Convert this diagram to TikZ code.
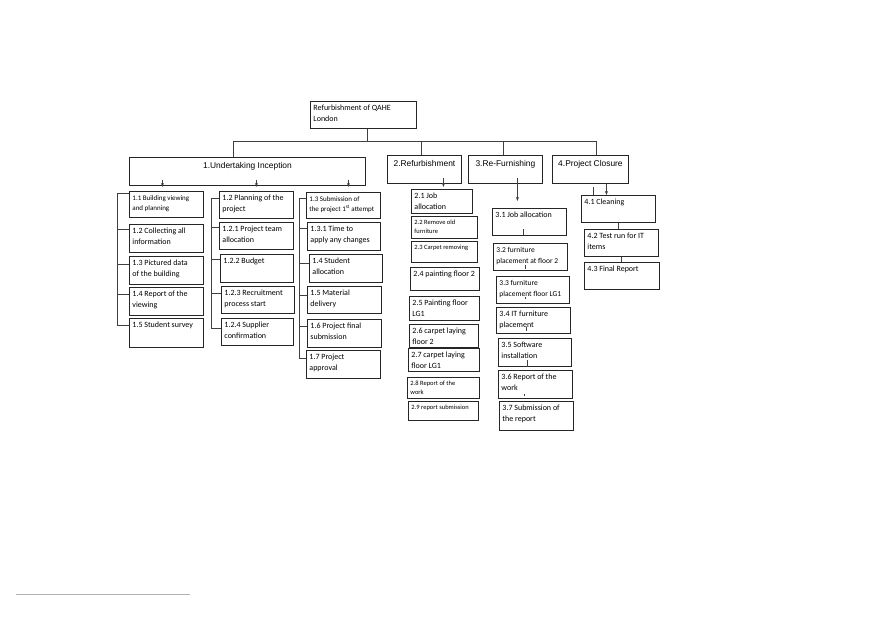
\documentclass[tikz,border=0pt]{standalone}
\usepackage{fontspec}
\setmainfont{Carlito}
\newfontfamily\headfont{Liberation Sans}
\usetikzlibrary{arrows.meta}
\definecolor{linegray}{gray}{.25}
\definecolor{footgray}{gray}{.7}
\newcommand{\cell}[3]{\parbox[c][\dimexpr#2pt-4pt\relax][t]{\dimexpr#1pt-6pt\relax}{\raggedright\strut #3}}
\newcommand{\headcell}[3]{\parbox[c][\dimexpr#2pt-4pt\relax][t]{\dimexpr#1pt-6pt\relax}{\centering\vspace{2pt}\strut #3}}
\tikzset{
    common/.style={anchor=north west, draw=black!85, rectangle, line width=0.9pt, inner xsep=3pt, inner ysep=2pt},
    item/.style={common, font=\fontsize{8}{10.5}\selectfont},
    smallitem/.style={common, font=\fontsize{7}{10}\selectfont},
    tinyitem/.style={common, font=\fontsize{6.5}{9}\selectfont},
    phase/.style={common, font=\headfont\fontsize{8.4}{10}\selectfont},
    link/.style={draw=linegray, line width=0.6pt},
    arrow/.style={link, -{Stealth[length=4pt,width=3pt]}}
}

\begin{document}
\begin{tikzpicture}[x=1pt, y=-1pt]
    \useasboundingbox (0,0) rectangle (880,621);

    % top and phases
    \node[item] (root) at (310,101) {\cell{106}{27}{Refurbishment of QAHE\\London}};
    \node[phase] (inception) at (129,157) {\headcell{236}{28}{1.Undertaking Inception}};
    \node[phase] (refurb) at (387,155) {\headcell{74}{28}{2.Refurbishment}};
    \node[phase] (furnish) at (468,155) {\headcell{74}{28}{3.Re-Furnishing}};
    \node[phase] (closure) at (552,155) {\headcell{76}{28}{4.Project Closure}};

    \coordinate (bar) at (0,141);
    \draw[link] ([xshift=4pt]root.south) -- ([xshift=4pt]bar -| root.south);
    \draw[link] ([xshift=-14pt]inception.north) |- ([xshift=6pt]bar -| closure.north) -- ([xshift=6pt]closure.north);
    \draw[link] ([xshift=-3pt]refurb.north) -- ([xshift=-3pt]bar -| refurb.north);
    \draw[link] ([xshift=-2pt]furnish.north) -- ([xshift=-2pt]bar -| furnish.north);

    % 1. inception
    \node[smallitem] (i11) at (129,191) {\cell{74}{26}{1.1 Building viewing\\and planning}};
    \node[item] (i12) at (129,224) {\cell{74}{28}{1.2 Collecting all\\information}};
    \node[item] (i13) at (129,256) {\cell{74}{28}{1.3 Pictured data\\of the building}};
    \node[item] (i14) at (129,287) {\cell{74}{28}{1.4 Report of the\\viewing}};
    \node[item] (i15) at (129,318) {\cell{74}{29}{1.5 Student survey}};

    \node[item] (p12) at (219,191) {\cell{74}{27}{1.2 Planning of the\\project}};
    \node[item] (p121) at (219,222) {\cell{74}{27}{1.2.1 Project team\\allocation}};
    \node[item] (p122) at (220,254) {\cell{73}{28}{1.2.2 Budget}};
    \node[item] (p123) at (221,286) {\cell{73}{27}{1.2.3 Recruitment\\process start}};
    \node[item] (p124) at (221,318) {\cell{72}{27}{1.2.4 Supplier\\confirmation}};

    \node[smallitem] (s13) at (306,192) {\cell{74}{26}{1.3 Submission of\\the project 1\textsuperscript{st} attempt}};
    \node[item] (s131) at (307,222) {\cell{73}{28}{1.3.1 Time to\\apply any changes}};
    \node[item] (s14) at (309,254) {\cell{73}{28}{1.4 Student\\allocation}};
    \node[item] (s15) at (307,286) {\cell{74}{27}{1.5 Material\\delivery}};
    \node[item] (s16) at (307,319) {\cell{74}{28}{1.6 Project final\\submission}};
    \node[item] (s17) at (306,350) {\cell{74}{28}{1.7 Project\\approval}};

    \draw[arrow] ([xshift=-85pt,yshift=6pt]inception.south) -- ([xshift=-85pt,yshift=-1pt]inception.south);
    \draw[arrow] ([xshift=9pt,yshift=6pt]inception.south) -- ([xshift=9pt,yshift=-1pt]inception.south);
    \draw[arrow] ([xshift=101pt,yshift=6pt]inception.south) -- ([xshift=101pt,yshift=-1pt]inception.south);

    \draw[link] ([yshift=-2pt]i11.north west) -- ++(-12,0) |- ([yshift=-7pt]i15.north west);
    \draw[link] ([yshift=-5pt]i12.north west) -- ++(-12,0);
    \draw[link] ([yshift=-8pt]i13.north west) -- ++(-12,0);
    \draw[link] ([yshift=-7pt]i14.north west) -- ++(-12,0);

    \draw[link] ([yshift=-7pt]p12.north west) -- ++(-8,0) |- ([yshift=-10pt]p124.north west);
    \draw[link] ([yshift=-5pt]p121.north west) -- ++(-8,0);
    \draw[link] ([yshift=-5pt]p122.north west) -- ++(-9,0);
    \draw[link] ([yshift=-7pt]p123.north west) -- ++(-10,0);

    \draw[link] ([yshift=-6pt]s13.north west) -- ++(-7,0) |- ([yshift=-8pt]s17.north west);
    \draw[link] ([yshift=-6pt]s131.north west) -- ++(-8,0);
    \draw[link] ([yshift=-9pt]s14.north west) -- ++(-10,0);
    \draw[link] ([yshift=-9pt]s15.north west) -- ++(-8,0);
    \draw[link] ([yshift=-7pt]s16.north west) -- ++(-8,0);

    % 2. refurbishment
    \node[item] (r21) at (411,189) {\cell{61}{24}{2.1 Job\\allocation}};
    \node[tinyitem] (r22) at (411,216) {\cell{66}{22}{2.2 Remove old\\furniture}};
    \node[tinyitem] (r23) at (411,241) {\cell{66}{21}{2.3 Carpet removing}};
    \node[item] (r24) at (410,267) {\cell{69}{23}{2.4 painting floor 2}};
    \node[item] (r25) at (409,296) {\cell{70}{24}{2.5 Painting floor\\LG1}};
    \node[item] (r26) at (409,324) {\cell{69}{23}{2.6 carpet laying\\floor 2}};
    \node[item] (r27) at (408,348) {\cell{71}{23}{2.7 carpet laying\\floor LG1}};
    \node[tinyitem] (r28) at (407,377) {\cell{72}{21}{2.8 Report of the\\work}};
    \node[tinyitem] (r29) at (408,401) {\cell{70}{19}{2.9 report submission}};

    \draw[arrow] ([xshift=19pt,yshift=6pt]refurb.south) -- ([xshift=19pt,yshift=2pt]refurb.south |- r21.north);

    % 3. re-furnishing
    \node[item] (f31) at (492,208) {\cell{74}{27}{3.1 Job allocation}};
    \node[item, font=\fontsize{7.5}{10.5}\selectfont] (f32) at (493,243) {\cell{74}{27}{3.2 furniture\\placement at floor 2}};
    \node[item, font=\fontsize{7.5}{10.5}\selectfont] (f33) at (496,276) {\cell{73}{27}{3.3 furniture\\placement floor LG1}};
    \node[item] (f34) at (496,307) {\cell{74}{26}{3.4 IT furniture\\placement}};
    \node[item] (f35) at (498,338) {\cell{73}{28}{3.5 Software\\installation}};
    \node[item] (f36) at (498,370) {\cell{74}{28}{3.6 Report of the\\work}};
    \node[item] (f37) at (499,401) {\cell{74}{29}{3.7 Submission of\\the report}};

    \draw[arrow] ([xshift=12pt,yshift=6pt]furnish.south) -- ([xshift=12pt,yshift=7pt]furnish.south |- f31.north);
    \draw[link] ([xshift=-6pt,yshift=1pt]f31.south) -- ++(0,-6);
    \draw[link] ([xshift=-5pt,yshift=2pt]f32.south) -- ++(0,-4);
    \draw[link] ([xshift=-7.5pt,yshift=5pt]f33.south) -- ++(0,-2);
    \draw[link] ([xshift=-7pt,yshift=3pt]f34.south) -- ++(0,-4);
    \draw[link] ([xshift=-7.5pt]f35.south) -- ++(0,-7);
    \draw[link] ([xshift=-11pt,yshift=3pt]f36.south) -- ++(0,-2);

    % 4. closure
    \node[item] (c41) at (581,195) {\cell{74}{27}{4.1 Cleaning}};
    \node[item] (c42) at (584,229) {\cell{74}{27}{4.2 Test run for IT\\items}};
    \node[item] (c43) at (584,262) {\cell{75}{27}{4.3 Final Report}};

    \draw[arrow] ([xshift=16pt]closure.south) -- ([xshift=16pt]closure.south |- c41.north);
    \draw[link] ([xshift=-25pt]c41.north) -- ++(0,-8);
    \draw[link] (c41.south) -- (c41.south |- c42.north);
    \draw[link] (c42.south) -- (c42.south |- c43.north);

    \draw[footgray, line width=1pt] (16,594) -- (190,594);
\end{tikzpicture}
\end{document}
